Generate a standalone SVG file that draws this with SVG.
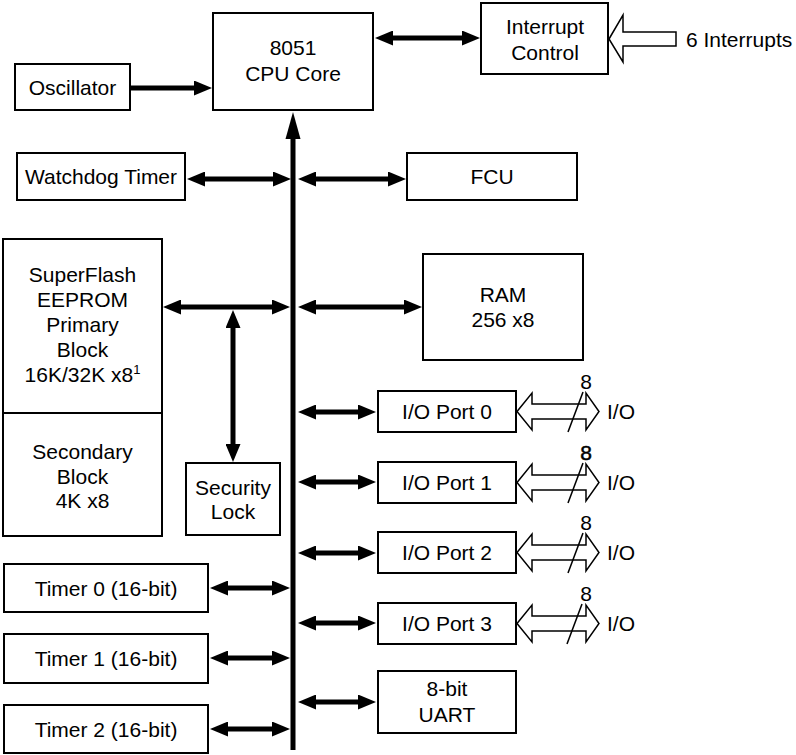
<svg xmlns="http://www.w3.org/2000/svg" width="796" height="755" viewBox="0 0 796 755">
<defs>
<style>
.box{fill:#fff;stroke:#000;stroke-width:2}
.t{font-family:"Liberation Sans",Arial,sans-serif;font-size:21px;fill:#000;text-anchor:middle}
.tl{font-family:"Liberation Sans",Arial,sans-serif;font-size:21px;fill:#000}
.ar{stroke:#000;stroke-width:5;fill:none}
.hol{fill:#fff;stroke:#000;stroke-width:1.5;stroke-linejoin:miter}
.sl{stroke:#000;stroke-width:1.5}
</style>
<marker id="ah" viewBox="0 0 18 15" refX="6" refY="7.5" markerWidth="18" markerHeight="15" markerUnits="userSpaceOnUse" orient="auto-start-reverse">
<path d="M0,0 L18,7.5 L0,15 z" fill="#000"/>
</marker>
</defs>
<rect width="796" height="755" fill="#fff"/>

<g id="connectors">
<line class="ar" x1="293" y1="136" x2="293" y2="750"/>
<polygon points="293,112 285.5,139 300.5,139" fill="#000"/>
<line class="ar" x1="131" y1="88" x2="200" y2="88" marker-end="url(#ah)"/>
<line class="ar" x1="387" y1="38" x2="468" y2="38" marker-start="url(#ah)" marker-end="url(#ah)"/>
<line class="ar" x1="199" y1="179" x2="279" y2="179" marker-start="url(#ah)" marker-end="url(#ah)"/>
<line class="ar" x1="310" y1="179" x2="394" y2="179" marker-start="url(#ah)" marker-end="url(#ah)"/>
<line class="ar" x1="175" y1="307" x2="278" y2="307" marker-start="url(#ah)" marker-end="url(#ah)"/>
<line class="ar" x1="233" y1="322" x2="233" y2="450" marker-start="url(#ah)" marker-end="url(#ah)"/>
<line class="ar" x1="310" y1="307" x2="410" y2="307" marker-start="url(#ah)" marker-end="url(#ah)"/>
<line class="ar" x1="310" y1="412" x2="364" y2="412" marker-start="url(#ah)" marker-end="url(#ah)"/>
<line class="ar" x1="310" y1="482" x2="364" y2="482" marker-start="url(#ah)" marker-end="url(#ah)"/>
<line class="ar" x1="310" y1="553" x2="364" y2="553" marker-start="url(#ah)" marker-end="url(#ah)"/>
<line class="ar" x1="310" y1="623" x2="364" y2="623" marker-start="url(#ah)" marker-end="url(#ah)"/>
<line class="ar" x1="310" y1="702" x2="364" y2="702" marker-start="url(#ah)" marker-end="url(#ah)"/>
<line class="ar" x1="222" y1="588" x2="278" y2="588" marker-start="url(#ah)" marker-end="url(#ah)"/>
<line class="ar" x1="222" y1="658" x2="278" y2="658" marker-start="url(#ah)" marker-end="url(#ah)"/>
<line class="ar" x1="222" y1="729" x2="278" y2="729" marker-start="url(#ah)" marker-end="url(#ah)"/>
<polygon class="hol" points="609,39 623,15 623,32 676,32 676,46 623,46 623,62"/>
<g id="bus0">
<polygon class="hol" points="517,411.5 532,393 532,404 586,404 586,393 599,411.5 586,430 586,419 532,419 532,430"/>
<line class="sl" x1="568" y1="432" x2="583" y2="392"/>
</g>
<g id="bus1">
<polygon class="hol" points="517,482.5 532,464 532,475 586,475 586,464 599,482.5 586,501 586,490 532,490 532,501"/>
<line class="sl" x1="568" y1="503" x2="583" y2="463"/>
</g>
<g id="bus2">
<polygon class="hol" points="517,552.5 532,534 532,545 586,545 586,534 599,552.5 586,571 586,560 532,560 532,571"/>
<line class="sl" x1="568" y1="573" x2="583" y2="533"/>
</g>
<g id="bus3">
<polygon class="hol" points="517,623.5 532,605 532,616 586,616 586,605 599,623.5 586,642 586,631 532,631 532,642"/>
<line class="sl" x1="567" y1="644" x2="582" y2="604"/>
</g>
</g>

<g id="cpu"><rect class="box" x="213" y="13" width="160" height="97"/>
<text class="t" x="293" y="55">8051</text><text class="t" x="293" y="81">CPU Core</text></g>
<g id="interrupt"><rect class="box" x="481" y="3" width="127" height="71"/>
<text class="t" x="545" y="34">Interrupt</text><text class="t" x="545" y="60">Control</text></g>
<g id="interrupts-label"><text class="tl" x="686" y="47">6 Interrupts</text></g>
<g id="oscillator"><rect class="box" x="15" y="64" width="115" height="46"/>
<text class="t" x="72.5" y="95">Oscillator</text></g>
<g id="watchdog"><rect class="box" x="17" y="153" width="168" height="47"/>
<text class="t" x="101" y="184">Watchdog Timer</text></g>
<g id="fcu"><rect class="box" x="407" y="153" width="170" height="47"/>
<text class="t" x="492" y="184">FCU</text></g>
<g id="flash"><rect class="box" x="3" y="239" width="159" height="297"/>
<line x1="3" y1="413" x2="162" y2="413" stroke="#000" stroke-width="2"/>
<text class="t" x="82.5" y="282">SuperFlash</text>
<text class="t" x="82.5" y="307">EEPROM</text>
<text class="t" x="82.5" y="332">Primary</text>
<text class="t" x="82.5" y="357">Block</text>
<text class="t" x="82.5" y="382">16K/32K x8<tspan font-size="13" dy="-8">1</tspan></text>
<text class="t" x="82.5" y="459">Secondary</text>
<text class="t" x="82.5" y="484">Block</text>
<text class="t" x="82.5" y="508">4K x8</text></g>
<g id="security"><rect class="box" x="186" y="463" width="94" height="72"/>
<text class="t" x="233" y="495">Security</text><text class="t" x="233" y="519">Lock</text></g>
<g id="ram"><rect class="box" x="423" y="254" width="160" height="106"/>
<text class="t" x="503" y="302">RAM</text><text class="t" x="503" y="327">256 x8</text></g>
<g id="port0"><rect class="box" x="378" y="391" width="138" height="41"/>
<text class="t" x="447" y="419">I/O Port 0</text>
<text class="t" x="586" y="389">8</text><text class="tl" x="607" y="419">I/O</text></g>
<g id="port1"><rect class="box" x="378" y="462" width="138" height="41"/>
<text class="t" x="447" y="490">I/O Port 1</text>
<text class="t" x="586" y="460" stroke="#000" stroke-width="0.5">8</text><text class="tl" x="607" y="490">I/O</text></g>
<g id="port2"><rect class="box" x="378" y="532" width="138" height="41"/>
<text class="t" x="447" y="560">I/O Port 2</text>
<text class="t" x="586" y="530">8</text><text class="tl" x="607" y="560">I/O</text></g>
<g id="port3"><rect class="box" x="378" y="603" width="138" height="41"/>
<text class="t" x="447" y="631">I/O Port 3</text>
<text class="t" x="586" y="601">8</text><text class="tl" x="607" y="631">I/O</text></g>
<g id="uart"><rect class="box" x="378" y="671" width="138" height="62"/>
<text class="t" x="447" y="696">8-bit</text><text class="t" x="447" y="722">UART</text></g>
<g id="timer0"><rect class="box" x="4" y="564" width="204" height="48"/>
<text class="t" x="106" y="596">Timer 0 (16-bit)</text></g>
<g id="timer1"><rect class="box" x="4" y="634" width="204" height="49"/>
<text class="t" x="106" y="666">Timer 1 (16-bit)</text></g>
<g id="timer2"><rect class="box" x="4" y="705" width="204" height="48"/>
<text class="t" x="106" y="737">Timer 2 (16-bit)</text></g>
</svg>
